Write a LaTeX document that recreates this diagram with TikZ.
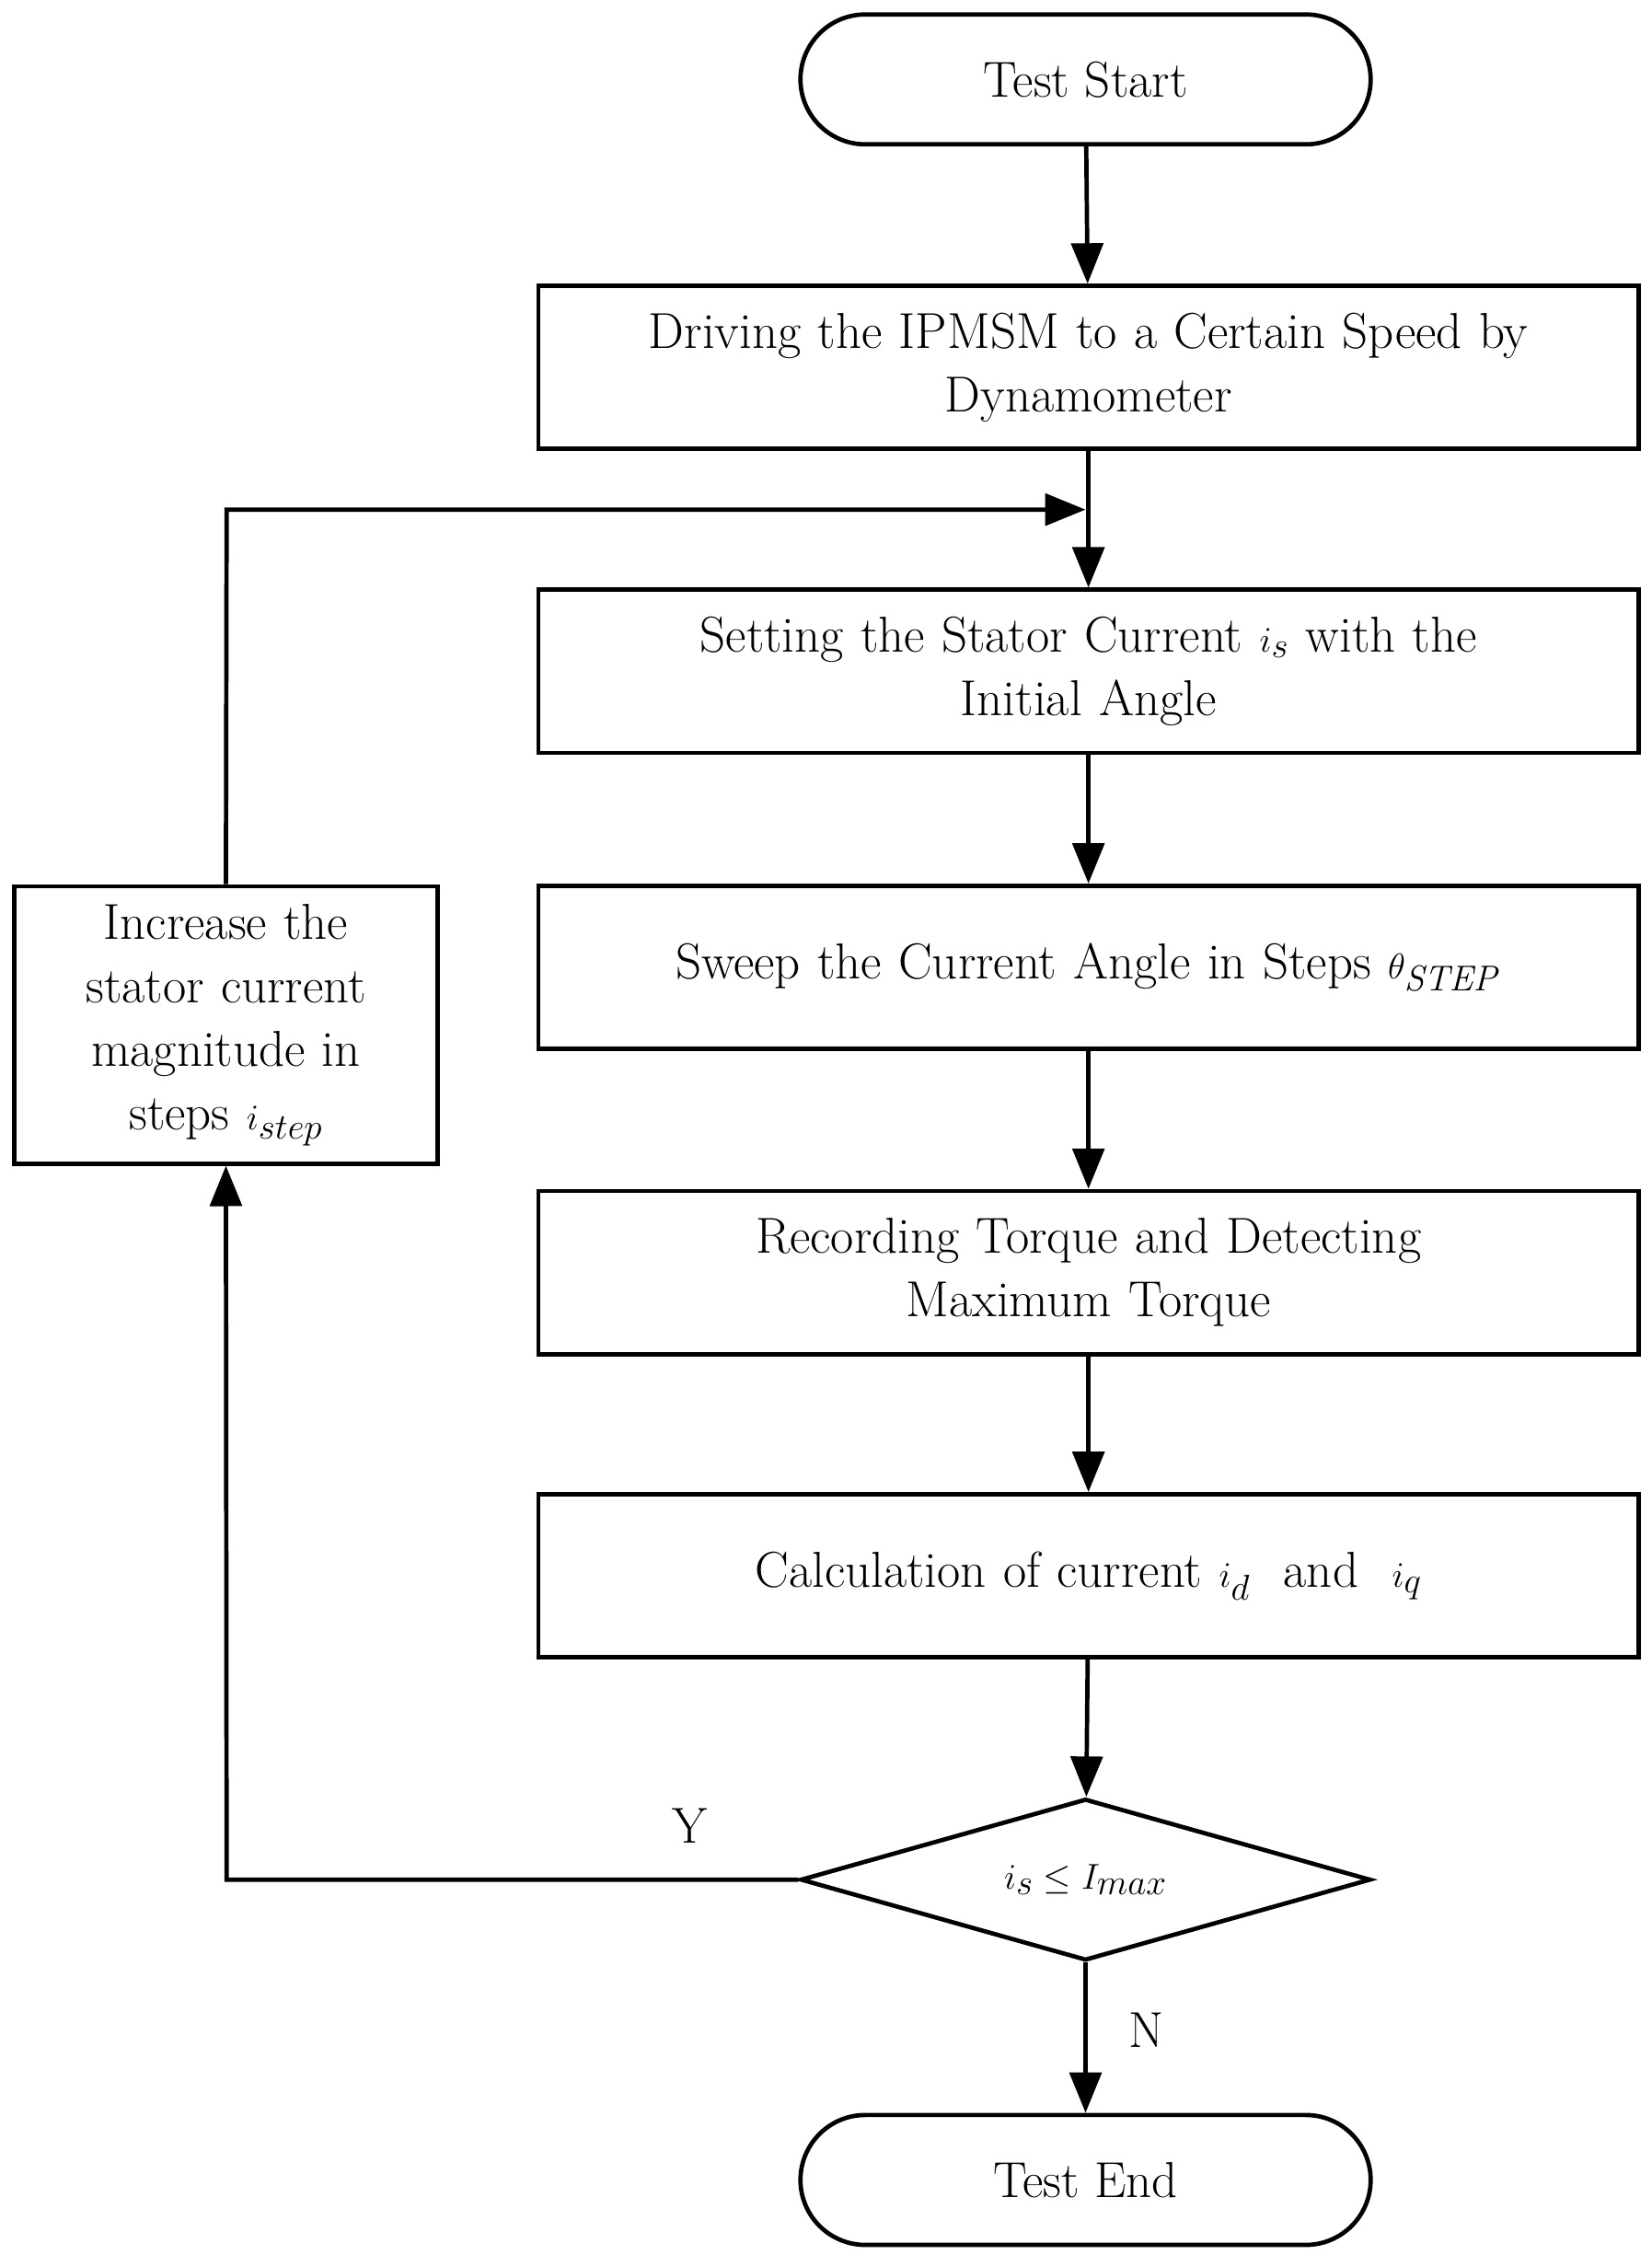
\documentclass[tikz,border=0pt]{standalone}
\usetikzlibrary{shapes.geometric,arrows.meta}
\begin{document}
\begin{tikzpicture}[x=1pt,y=-1pt,
  every node/.style={font=\fontsize{35}{44}\selectfont},
  box/.style={draw,line width=3pt,minimum width=762pt,minimum height=113pt,text width=740pt,align=center,inner sep=0pt},
  term/.style={draw,line width=3pt,rounded corners=45pt,minimum width=395pt,minimum height=90pt},
  line/.style={line width=3pt},
  arr/.style={line width=3pt,-{Triangle[length=28pt,width=22pt]}}]
\useasboundingbox (0,0) rectangle (1144,1562);
\node[term] (start) at (752,55) {Test Start};
\node[box] (b1) at (754,254.5) {Driving the IPMSM to a Certain Speed by\\Dynamometer};
\node[box] (b2) at (754,465) {Setting the Stator Current $i_s$ with the\\Initial Angle};
\node[box] (b3) at (754,670) {Sweep the Current Angle in Steps $\theta_{\mathit{STEP}}$};
\node[box] (b4) at (754,881.5) {Recording Torque and Detecting\\Maximum Torque};
\node[box] (b5) at (754,1091.5) {Calculation of current $i_d$ \ and \ $i_q$};
\node[draw,line width=3pt,diamond,aspect=3.5,minimum width=395pt,minimum height=112pt,inner sep=0pt] (d) at (752,1302) {$i_s \le I_{max}$};
\node[term] (end) at (752,1510) {Test End};
\node[draw,line width=3pt,minimum width=293pt,minimum height=192pt,text width=280pt,align=center,inner sep=0pt] (lb) at (156.5,710) {Increase the\\stator current\\magnitude in\\steps $i_{step}$};
\coordinate (j) at (752,353);
\coordinate (c1) at (157,353);
\coordinate (c2) at (157,1302);
\draw[arr] (start) -- (b1);
\draw[arr] (b1) -- (b2);
\draw[arr] (b2) -- (b3);
\draw[arr] (b3) -- (b4);
\draw[arr] (b4) -- (b5);
\draw[arr] (b5) -- (d);
\draw[arr] (d) -- node[right=25pt,pos=0.45]{N} (end);
\draw[arr] (lb.north) -- (c1) -- (j);
\draw[arr] (d.west) -- (c2) -- (lb.south);
\node (y) at (478,1265) {Y};
\end{tikzpicture}
\end{document}
